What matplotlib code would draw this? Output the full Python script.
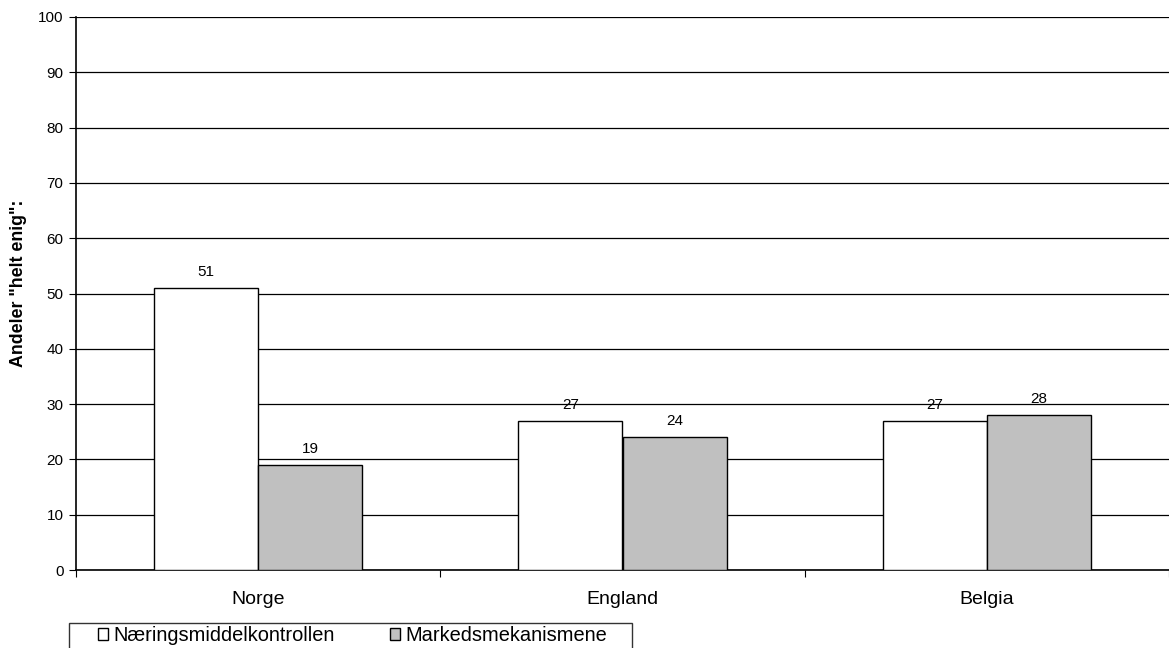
import matplotlib
matplotlib.use("Agg")
import matplotlib.pyplot as plt
from matplotlib.patches import Rectangle
import numpy as np

plt.rcParams['font.family'] = ['Liberation Sans', 'DejaVu Sans']

categories = ["Norge", "England", "Belgia"]
series_names = ["Næringsmiddelkontrollen", "Markedsmekanismene"]
naering = [51, 27, 27]
marked = [19, 24, 28]
colors = ["#FFFFFF", "#C0C0C0"]

W, H = 1169, 648
fig = plt.figure(figsize=(W / 100, H / 100), dpi=100)
ax = fig.add_axes([76 / W, 1 - 570 / H, 1 - 76 / W, (570 - 17) / H])

x = np.arange(len(categories))
w = 0.286
bars = []
for i, (vals, col, name) in enumerate(zip([naering, marked], colors, series_names)):
    b = ax.bar(x + (i - 0.5) * w, vals, w, color=col, edgecolor="black", linewidth=1.0, label=name, zorder=3)
    bars.append(b)
    for xi, v in zip(x + (i - 0.5) * w, vals):
        ax.text(xi, v + 1.6, str(v), ha="center", va="bottom", fontsize=11)

ax.set_xlim(-0.5, 2.5)
ax.set_ylim(0, 100)
ax.set_yticks(range(0, 101, 10))
ax.yaxis.grid(True, color="black", linewidth=0.9, zorder=0)
ax.set_axisbelow(True)
ax.set_xticks([-0.5, 0.5, 1.5, 2.5])
ax.set_xticklabels([])
ax.set_xticks(x, minor=True)
ax.set_xticklabels(categories, minor=True, fontsize=14)
ax.tick_params(axis="x", which="minor", length=0, pad=15)
ax.tick_params(axis="x", which="major", length=5, direction="out")
ax.tick_params(axis="y", length=5, direction="out", labelsize=11, pad=4)
for s in ["top", "right"]:
    ax.spines[s].set_visible(False)
ax.spines["left"].set_linewidth(1.2)
ax.spines["bottom"].set_linewidth(1.2)

fig.text(18.5 / W, 1 - 283 / H, 'Andeler "helt enig":', rotation=90, ha="center", va="center",
         fontsize=12.8, fontweight="bold")

# legend frame (extends beyond the bottom edge as in the original)
fig.patches.append(Rectangle((69 / W, -0.05), (632 - 69) / W, 0.05 + 1 - 623 / H,
                             transform=fig.transFigure, facecolor="white",
                             edgecolor="#333333", linewidth=1.0, zorder=1))
leg = fig.legend(handles=bars, labels=series_names, loc="upper left",
                 bbox_to_anchor=(98 / W, 1 - 626 / H), ncol=2, frameon=False,
                 fontsize=14.4, handlelength=0.5, handleheight=0.5, handletextpad=0.25,
                 columnspacing=2.8, borderpad=0, borderaxespad=0)
leg.set_zorder(2)

fig.savefig("out.png", dpi=100)
